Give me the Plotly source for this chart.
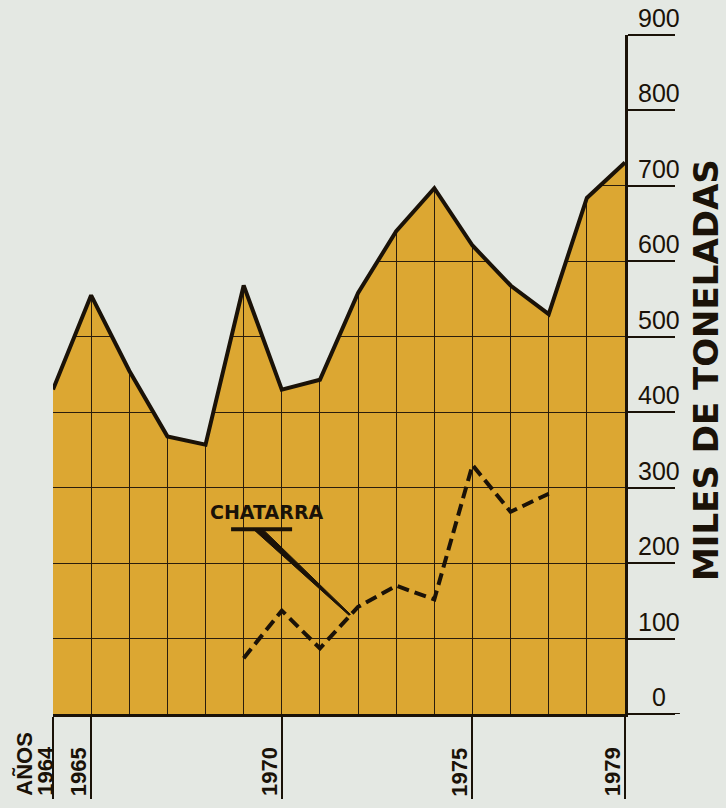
import plotly.graph_objects as go

# ---------------- data ----------------
years = list(range(1964, 1980))
total = [430, 555, 455, 368, 357, 568, 430, 443, 558, 640, 697, 621, 568, 530, 684, 731]

scrap_years = list(range(1969, 1978))
scrap = [74, 137, 87, 142, 170, 152, 330, 268, 292]

y_ticks = [0, 100, 200, 300, 400, 500, 600, 700, 800, 900]
y_tick_labels = ["0", "100", "200", "300", "400", "500", "600", "700", "800", "900"]
x_label_years = [1964, 1965, 1970, 1975, 1979]
x_labels = ["1964", "1965", "1970", "1975", "1979"]
x_label_shift = [7, 2, 2, 2, 2]

axis_title = "MILES DE TONELADAS"
years_word = "AÑOS"
scrap_label = "CHATARRA"

# ---------------- style ----------------
BG = "#e4e8e3"
GOLD = "#dca732"
INK = "#1a1208"
GRID = "#2b1d0c"
Y_MAX = 900
LABEL_Y = -0.124  # paper coords, bottom of rotated year labels

fig = go.Figure()

# invisible base curve
fig.add_trace(go.Scatter(x=years, y=total, mode="lines", line=dict(width=0),
                         hoverinfo="skip", showlegend=False))
# cover region above the curve with background colour (hides grid there)
fig.add_trace(go.Scatter(x=years, y=[Y_MAX + 60] * len(years), mode="lines",
                         line=dict(width=0), fill="tonexty", fillcolor=BG,
                         hoverinfo="skip", showlegend=False))
# main production line
fig.add_trace(go.Scatter(x=years, y=total, mode="lines",
                         line=dict(color=INK, width=4), showlegend=False))
# scrap dashed line
fig.add_trace(go.Scatter(x=scrap_years, y=scrap, mode="lines",
                         line=dict(color=INK, width=4, dash="12px,6px"),
                         showlegend=False))

annotations = []
# right tick labels
for v, t in zip(y_ticks, y_tick_labels):
    annotations.append(dict(x=1.0595, xref="paper", y=v, yref="y", text=t,
                            showarrow=False, xanchor="center", yanchor="middle",
                            yshift=17, font=dict(family="Liberation Sans", size=25, color=INK)))
# axis title
annotations.append(dict(x=1.1416, xref="paper", y=456, yref="y", text=axis_title,
                        textangle=-90, showarrow=False, xanchor="center", yanchor="middle",
                        font=dict(family="DejaVu Sans", size=34, color=INK, weight="bold")))
# year labels
for yr, t, sh in zip(x_label_years, x_labels, x_label_shift):
    annotations.append(dict(x=yr, xref="x", y=LABEL_Y, yref="paper", text=t, textangle=-90,
                            showarrow=False, xanchor="right", yanchor="bottom", xshift=sh,
                            font=dict(family="Liberation Sans", size=22, color=INK, weight="bold")))
annotations.append(dict(x=1964, xref="x", y=LABEL_Y, yref="paper", text=years_word, textangle=-90,
                        showarrow=False, xanchor="right", yanchor="bottom", xshift=-14,
                        font=dict(family="Liberation Sans", size=22, color=INK, weight="bold")))
# CHATARRA label
annotations.append(dict(x=1969.6, xref="x", y=268, yref="y", text=scrap_label,
                        showarrow=False, xanchor="center", yanchor="middle",
                        font=dict(family="DejaVu Sans", size=19, color=INK, weight="bold")))

shapes = [
    # underline of label
    dict(type="line", xref="x", yref="y", x0=1968.67, x1=1970.27, y0=245, y1=245,
         line=dict(color=INK, width=4)),
    # tapered pointer
    dict(type="path", xref="x", yref="y",
         path="M 1969.25 245 L 1969.50 245 L 1971.80 132 L 1971.76 131 Z",
         fillcolor=INK, line=dict(color=INK, width=1)),
    # extension of the zero tick
    dict(type="line", xref="paper", yref="y", x0=1.0, x1=1.096, y0=0, y1=0,
         line=dict(color=INK, width=2)),
]

fig.update_layout(
    width=726, height=808,
    margin=dict(l=53, r=101, t=35, b=89),
    paper_bgcolor=BG, plot_bgcolor=GOLD,
    showlegend=False,
    annotations=annotations, shapes=shapes,
    xaxis=dict(range=[1964, 1979], tickvals=x_label_years, showticklabels=False,
               ticks="outside", ticklen=82, tickwidth=1.5, tickcolor=INK,
               showgrid=True, gridcolor=GRID, gridwidth=1.2,
               minor=dict(dtick=1, tick0=1964, showgrid=True, gridcolor=GRID, gridwidth=1.2),
               showline=True, linecolor=INK, linewidth=2.6, zeroline=False, fixedrange=True),
    yaxis=dict(range=[0, Y_MAX], side="right", tickvals=y_ticks, showticklabels=False,
               ticks="outside", ticklen=47, tickwidth=1.6, tickcolor=INK,
               showgrid=True, gridcolor=GRID, gridwidth=1.2,
               showline=True, linecolor=INK, linewidth=2.6, zeroline=False, fixedrange=True),
)

fig.write_html("out.html", config={"displayModeBar": False},
               post_script="document.body.style.margin='0';document.body.style.padding='0';"
                           "document.body.style.background='" + BG + "';")
